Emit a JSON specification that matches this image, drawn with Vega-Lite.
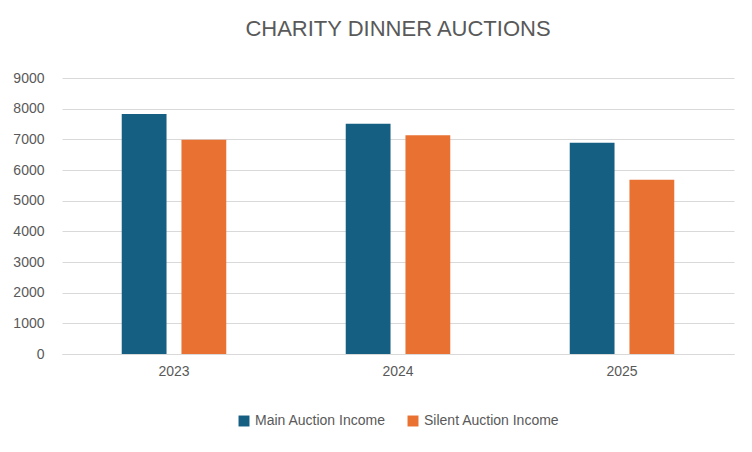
{
  "$schema": "https://vega.github.io/schema/vega-lite/v6.json",
  "width": 752,
  "height": 452,
  "autosize": {"type": "fit", "contains": "padding"},
  "padding": {"left": 12, "right": 18, "top": 18, "bottom": 24},
  "background": "white",
  "title": {
    "text": "CHARITY DINNER AUCTIONS",
    "fontSize": 22,
    "font": "Liberation Sans",
    "fontWeight": "normal",
    "color": "#595959",
    "offset": 30
  },
  "data": {
    "values": [
      {"year": "2023", "series": "Main Auction Income", "value": 7830},
      {"year": "2023", "series": "Silent Auction Income", "value": 6990},
      {"year": "2024", "series": "Main Auction Income", "value": 7510},
      {"year": "2024", "series": "Silent Auction Income", "value": 7130},
      {"year": "2025", "series": "Main Auction Income", "value": 6890},
      {"year": "2025", "series": "Silent Auction Income", "value": 5680}
    ]
  },
  "mark": {"type": "bar"},
  "encoding": {
    "x": {
      "field": "year",
      "type": "nominal",
      "title": null,
      "scale": {"paddingInner": 0, "paddingOuter": 0},
      "axis": {"labelAngle": 0, "labelFontSize": 14, "labelColor": "#595959", "labelFont": "Liberation Sans", "domainColor": "#d9d9d9", "ticks": false, "labelPadding": 10}
    },
    "xOffset": {
      "field": "series",
      "scale": {"paddingInner": 0.25, "paddingOuter": 1.5}
    },
    "y": {
      "field": "value",
      "type": "quantitative",
      "title": null,
      "scale": {"domain": [0, 9000]},
      "axis": {"tickCount": 9, "format": "d", "labelFontSize": 14, "labelColor": "#595959", "labelFont": "Liberation Sans", "domain": false, "ticks": false, "gridColor": "#d9d9d9", "labelPadding": 18}
    },
    "color": {
      "field": "series",
      "type": "nominal",
      "scale": {"range": ["#156082", "#E97132"]},
      "legend": {
        "orient": "bottom",
        "title": null,
        "direction": "horizontal",
        "symbolType": "square",
        "symbolSize": 120,
        "labelFontSize": 14,
        "labelColor": "#595959",
        "labelFont": "Liberation Sans",
        "columnPadding": 20,
        "offset": 36
      }
    }
  },
  "config": {
    "view": {"stroke": null},
    "legend": {"layout": {"bottom": {"anchor": "middle"}}}
  }
}
